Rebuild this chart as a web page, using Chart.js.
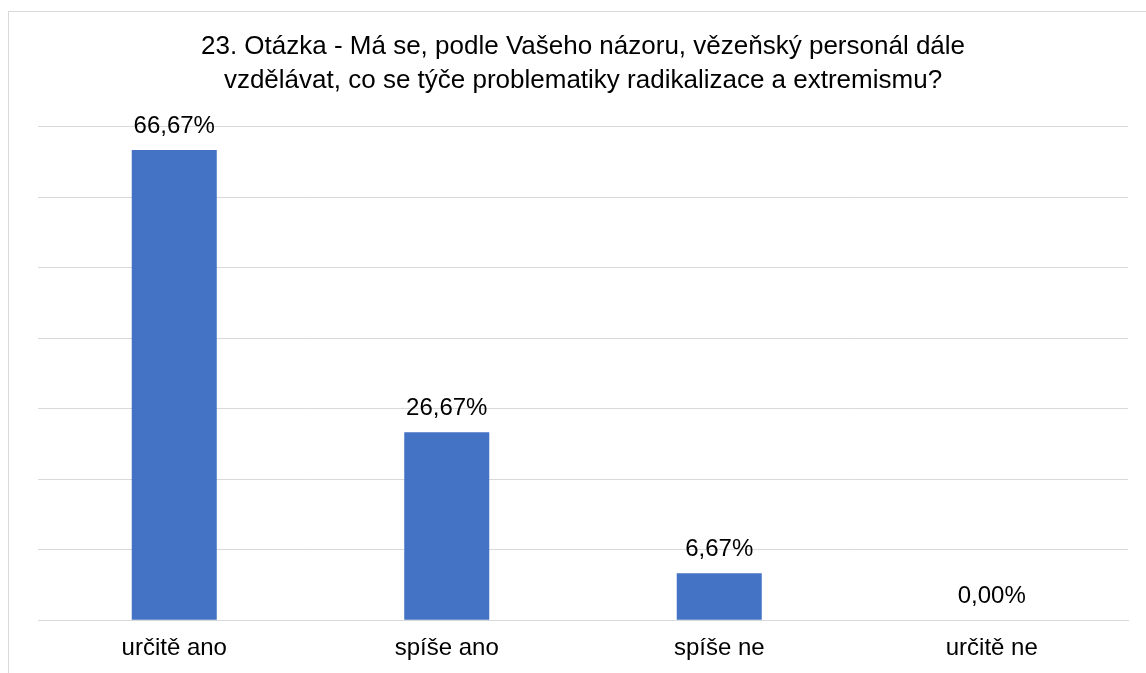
<!DOCTYPE html>
<html>
<head>
<meta charset="utf-8">
<script src="https://cdn.jsdelivr.net/npm/chart.js@4"></script>
<style>
  html, body { margin: 0; padding: 0; background: #fff; }
  #wrap { position: relative; width: 1146px; height: 673px; overflow: hidden; }
  #frame { position: absolute; left: 8px; top: 11px; width: 1200px; height: 700px; border: 1px solid #d9d9d9; }
  canvas { position: absolute; left: 0; top: 0; }
</style>
</head>
<body>
<div id="wrap">
  <div id="frame"></div>
  <canvas id="chart" width="1146" height="673"></canvas>
</div>
<script>
  const categories = ["určitě ano", "spíše ano", "spíše ne", "určitě ne"];
  const percentValues = [66.67, 26.67, 6.67, 0.00];
  const titleLines = [
    "23. Otázka - Má se, podle Vašeho názoru, vězeňský personál dále",
    "vzdělávat, co se týče problematiky radikalizace a extremismu?"
  ];

  const FONT = "'Liberation Sans', Arial, sans-serif";

  // labels above bars, drawn from the bar elements
  const barLabels = {
    id: "barLabels",
    afterDatasetsDraw(chart) {
      let ctx = chart.ctx;
      let meta = chart.getDatasetMeta(0);
      ctx.save();
      ctx.font = "24px " + FONT;
      ctx.fillStyle = "#000";
      ctx.textAlign = "center";
      ctx.textBaseline = "alphabetic";
      for (let i = 0; i < meta.data.length; i++) {
        let bar = meta.data[i];
        let txt = percentValues[i].toFixed(2).replace(".", ",") + "%";
        ctx.fillText(txt, bar.x, bar.y - 17);
      }
      ctx.restore();
    }
  };

  let ctx = document.getElementById("chart").getContext("2d");
  let chart = new Chart(ctx, {
    type: "bar",
    data: {
      labels: categories,
      datasets: [{
        data: percentValues,
        backgroundColor: "#4472C4",
        barPercentage: 1,
        categoryPercentage: 0.312
      }]
    },
    options: {
      responsive: false,
      animation: false,
      layout: { padding: { left: 38, right: 18, top: 0, bottom: 10 } },
      plugins: {
        legend: { display: false },
        tooltip: { enabled: false },
        title: {
          display: true,
          text: titleLines,
          color: "#000",
          font: { family: FONT, size: 26, weight: "normal", lineHeight: 1.3 },
          padding: { top: 30, bottom: 29 }
        }
      },
      scales: {
        x: {
          // tick marks hidden, their length only spaces the labels
          grid: { display: false, drawTicks: true, tickLength: 14 },
          border: { color: "#d9d9d9" },
          ticks: { color: "#000", font: { family: FONT, size: 24 }, padding: 0 }
        },
        y: {
          min: 0,
          max: 70,
          ticks: { display: false, stepSize: 10 },
          grid: { color: "#d9d9d9", drawTicks: false },
          border: { display: false }
        }
      }
    },
    plugins: [barLabels]
  });
</script>
</body>
</html>
